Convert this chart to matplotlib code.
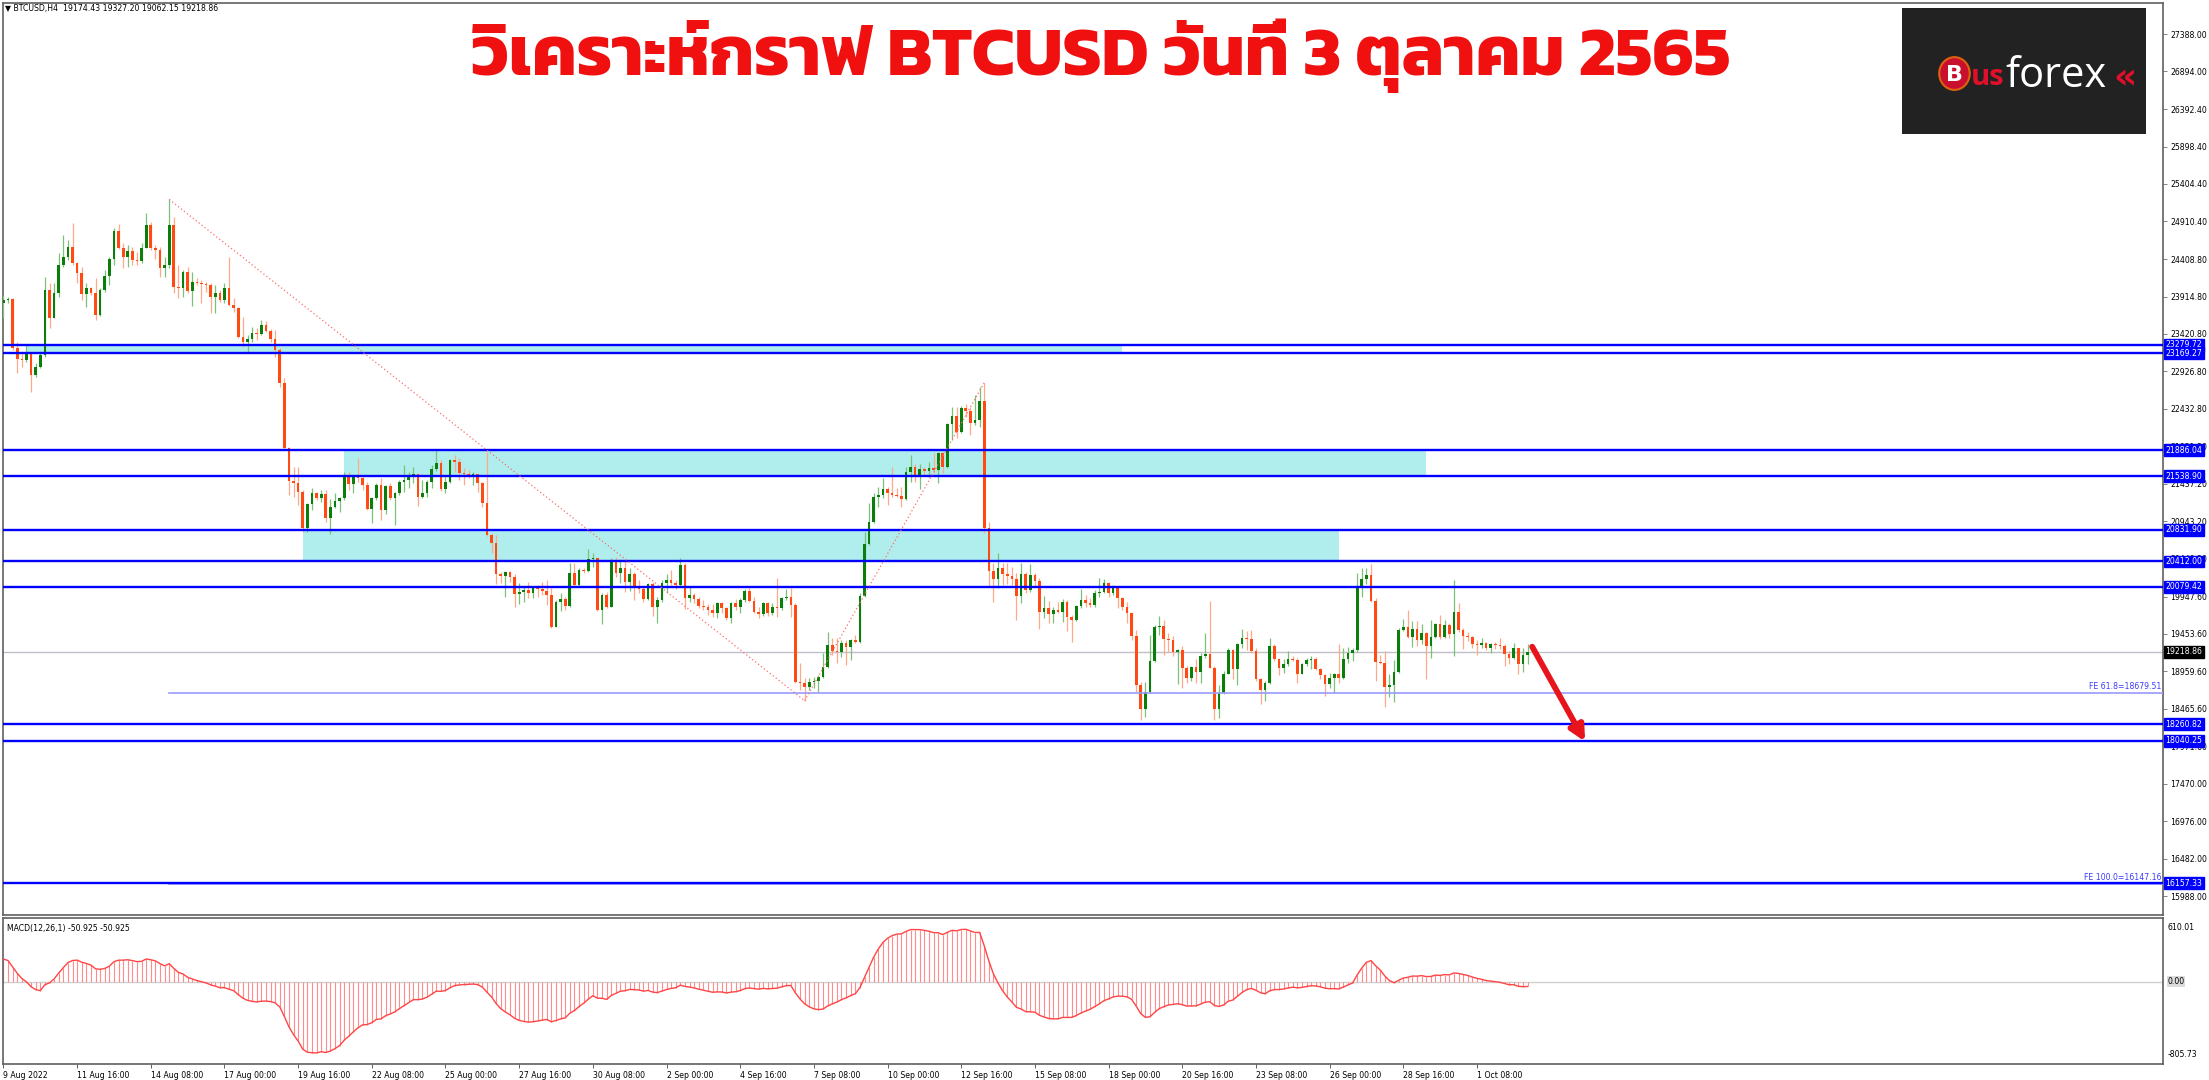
import matplotlib
matplotlib.use("Agg")
import matplotlib.pyplot as plt
import matplotlib.transforms as mtransforms
from matplotlib.patches import Rectangle, Ellipse
import numpy as np

# ---- data (9 Aug 2022 -> 3 Oct 2022) ----
first_open = 23826
closes = [
    23870, 23884, 23231, 23090, 23077, 23165, 22878, 22989, 23143, 24002,
    23637, 23958, 24333, 24443, 24567, 24355, 24223, 23945, 24025, 23958,
    23672, 24002, 24192, 24412, 24787, 24562, 24443, 24518, 24399, 24386,
    24562, 24862, 24554, 24531, 24298, 24333, 24862, 24047, 24033, 24245,
    23989, 24113, 24091, 24077, 24069, 23914, 23958, 23870, 24025, 23804,
    23760, 23385, 23319, 23354, 23438, 23421, 23540, 23465, 23354, 23209,
    22777, 21909, 21477, 21455, 21336, 20851, 21168, 21314, 21248, 21300,
    20983, 21137, 21212, 21256, 21547, 21433, 21534, 21512, 21424, 21106,
    21248, 21424, 21093, 21415, 21248, 21314, 21468, 21490, 21556, 21569,
    21261, 21314, 21468, 21631, 21719, 21367, 21468, 21755, 21728, 21578,
    21569, 21552, 21569, 21446, 21190, 20763, 20653, 20247, 20221, 20278,
    20212, 19983, 20013, 20035, 19991, 20058, 20044, 20027, 19969, 19551,
    19881, 19912, 19824, 20265, 20102, 20300, 20291, 20441, 20454, 19771,
    19969, 19815, 20419, 20265, 20322, 20146, 20247, 20080, 20044, 19912,
    20115, 19806, 19903, 20132, 20168, 20132, 20102, 20366, 19925, 19969,
    19912, 19824, 19806, 19771, 19727, 19859, 19793, 19661, 19859, 19806,
    19903, 20027, 19894, 19749, 19718, 19859, 19727, 19806, 19793, 19925,
    19947, 19837, 18823, 18801, 18757, 18823, 18836, 18889, 19012, 19308,
    19233, 19220, 19330, 19277, 19374, 19352, 19956, 20643, 20939, 21260,
    21291, 21366, 21313, 21291, 21283, 21234, 21600, 21666, 21543, 21631,
    21613, 21644, 21622, 21842, 21666, 22230, 22336, 22129, 22437, 22407,
    22248, 22283, 22539, 20851, 20291, 20176, 20322, 20247, 20220, 20176,
    19956, 20247, 20035, 20234, 20158, 19749, 19793, 19718, 19771, 19749,
    19881, 19682, 19638, 19823, 19903, 19859, 19837, 19991, 20013, 20123,
    20000, 20057, 19925, 19815, 19727, 19427, 18779, 18457, 18691, 19100,
    19541, 19559, 19383, 19374, 19221, 19238, 19000, 18877, 19018, 18956,
    19163, 19194, 19009, 18458, 18679, 18930, 19238, 18987, 19318, 19406,
    19384, 19230, 18855, 18709, 18811, 19296, 19119, 19000, 19053, 19119,
    19106, 18930, 19053, 19106, 19128, 18987, 18912, 18797, 18868, 18921,
    18868, 19119, 19208, 19238, 20089, 20177, 20235, 19891, 19088, 19075,
    18753, 18780, 18956, 19503, 19547, 19415, 19516, 19371, 19472, 19296,
    19415, 19591, 19415, 19573, 19450, 19750, 19503, 19428, 19415, 19318,
    19309, 19340, 19265, 19318, 19305, 19291, 19194, 19141, 19274, 19053,
    19174.43, 19218.86,
]
highs = [
    23936, 23914, 23892, 23319, 23165, 23275, 23187, 23033, 23187, 24179,
    24091, 24091, 24487, 24730, 24664, 24884, 24377, 24311, 24091, 24047,
    24157, 24025, 24267, 24443, 24818, 24871, 24620, 24598, 24576, 24509,
    24620, 25016, 24906, 24598, 24576, 24443, 25200, 24972, 24333, 24267,
    24311, 24245, 24157, 24135, 24113, 24091, 24069, 24002, 24091, 24443,
    23892, 23782, 23650, 23407, 23518, 23496, 23606, 23593, 23487, 23474,
    23231, 22843, 21931, 21666, 21666, 21358, 21181, 21380, 21336, 21358,
    21358, 21239, 21314, 21269, 21600, 21600, 21556, 21776, 21534, 21468,
    21269, 21446, 21512, 21424, 21446, 21336, 21490, 21688, 21600, 21666,
    21569, 21490, 21490, 21688, 21887, 21755, 21556, 21763, 21821, 21777,
    21644, 21622, 21600, 21569, 21468, 21865, 20785, 20763, 20278, 20291,
    20291, 20247, 20132, 20080, 20146, 20080, 20102, 20146, 20168, 20058,
    19903, 19991, 19947, 20397, 20397, 20322, 20322, 20573, 20520, 20441,
    19991, 20013, 20454, 20476, 20441, 20441, 20322, 20278, 20168, 20080,
    20132, 20146, 19947, 20168, 20247, 20300, 20168, 20454, 20388, 20080,
    20000, 19947, 19903, 19850, 19850, 19881, 19881, 19815, 19881, 19912,
    19925, 20044, 20058, 19947, 19815, 19881, 19881, 19859, 20190, 19947,
    20044, 20058, 19859, 19065, 18867, 18867, 18889, 18911, 19198, 19484,
    19396, 19396, 19374, 19374, 19383, 19440, 19991, 20806, 21181, 21313,
    21401, 21512, 21401, 21666, 21379, 21401, 21666, 21820, 21701, 21701,
    21666, 21732, 21842, 21864, 21864, 22248, 22459, 22459, 22468, 22495,
    22459, 22614, 22724, 22777, 20939, 20397, 20520, 20397, 20397, 20344,
    20256, 20397, 20278, 20379, 20256, 20189, 19956, 19894, 19815, 19881,
    19912, 19903, 19704, 19837, 20044, 19969, 19925, 20035, 20189, 20176,
    20145, 20101, 20088, 19947, 19881, 19749, 19506, 18823, 18823, 19440,
    19572, 19691, 19638, 19462, 19428, 19252, 19296, 19031, 19031, 19119,
    19208, 19472, 19891, 19031, 18780, 18965, 19274, 19252, 19340, 19516,
    19494, 19503, 19274, 18877, 18833, 19406, 19318, 19141, 19119, 19230,
    19163, 19141, 19075, 19133, 19163, 19150, 19009, 18930, 18943, 18943,
    19318, 19274, 19282, 19274, 20265, 20323, 20323, 20376, 19935, 19177,
    19230, 18930, 19106, 19538, 19648, 19767, 19626, 19626, 19582, 19485,
    19635, 19604, 19706, 19635, 19604, 20164, 19869, 19538, 19485, 19428,
    19371, 19406, 19353, 19340, 19353, 19406, 19327, 19230, 19340, 19274,
    19274, 19327.20,
]
lows = [
    23628, 23826, 23209, 22900, 22989, 23055, 22658, 22856, 22967, 23121,
    23504, 23628, 23914, 24311, 24399, 24333, 24091, 23870, 23782, 23936,
    23606, 23663, 23972, 24069, 24333, 24545, 24298, 24311, 24333, 24333,
    24355, 24554, 24531, 24412, 24179, 24179, 24298, 23958, 23901, 23914,
    23958, 23795, 24069, 23826, 23980, 23694, 23703, 23848, 23826, 23795,
    23716, 23363, 23253, 23187, 23319, 23341, 23407, 23452, 23319, 23121,
    22724, 21887, 21292, 21270, 21159, 20807, 20807, 21093, 21226, 21203,
    20939, 20772, 21115, 21071, 21226, 21358, 21314, 21468, 21358, 21093,
    20917, 21226, 20961, 21036, 21226, 20895, 21292, 21336, 21380, 21446,
    21146, 21248, 21270, 21380, 21613, 21349, 21314, 21455, 21600, 21490,
    21424, 21512, 21424, 21336, 21129, 20750, 20520, 20115, 20124, 19947,
    20146, 19815, 19850, 19881, 19925, 19925, 19947, 19969, 19837, 19528,
    19551, 19762, 19771, 19815, 20080, 20080, 20256, 20278, 20344, 19762,
    19586, 19793, 19806, 20212, 20124, 20013, 20027, 19903, 19991, 19881,
    19903, 19692, 19595, 19881, 20000, 20102, 20044, 20080, 19780, 19881,
    19859, 19793, 19771, 19705, 19683, 19661, 19727, 19639, 19603, 19771,
    19727, 19881, 19881, 19727, 19661, 19692, 19692, 19705, 19683, 19771,
    19903, 19683, 18801, 18713, 18572, 18713, 18735, 18691, 18867, 18999,
    19176, 19065, 19153, 19043, 19109, 19330, 19330, 19947, 20630, 20917,
    21137, 21247, 21159, 21269, 21269, 21128, 21225, 21468, 21468, 21366,
    21556, 21534, 21578, 21454, 21578, 21644, 22019, 22041, 22116, 22327,
    22085, 22217, 22195, 20793, 20079, 19881, 20057, 20101, 20114, 20101,
    19638, 19859, 19991, 20013, 20079, 19515, 19660, 19594, 19594, 19727,
    19616, 19497, 19352, 19630, 19793, 19815, 19815, 19815, 19947, 19991,
    19947, 19969, 19793, 19771, 19594, 19374, 18691, 18316, 18360, 18677,
    19087, 19440, 19176, 19220, 19163, 18789, 18745, 18811, 18833, 18811,
    18811, 19141, 19000, 18313, 18348, 18657, 18921, 18855, 18780, 19274,
    19238, 19208, 18833, 18524, 18568, 18798, 19097, 18912, 18943, 19031,
    19097, 18811, 18921, 19031, 18987, 18974, 18855, 18634, 18745, 18679,
    18811, 18855, 19075, 19097, 19221, 19944, 20111, 19882, 18833, 19053,
    18489, 18621, 18559, 18943, 19494, 19397, 19282, 19296, 19318, 18855,
    19133, 19397, 19384, 19397, 19397, 19163, 19485, 19252, 19362, 19274,
    19177, 19274, 19238, 19208, 19252, 19252, 19031, 19062, 19119, 18921,
    18956, 19062.15,
]

date_labels = ["9 Aug 2022", "11 Aug 16:00", "14 Aug 08:00", "17 Aug 00:00",
               "19 Aug 16:00", "22 Aug 08:00", "25 Aug 00:00", "27 Aug 16:00",
               "30 Aug 08:00", "2 Sep 00:00", "4 Sep 16:00", "7 Sep 08:00",
               "10 Sep 00:00", "12 Sep 16:00", "15 Sep 08:00", "18 Sep 00:00",
               "20 Sep 16:00", "23 Sep 08:00", "26 Sep 00:00", "28 Sep 16:00",
               "1 Oct 08:00"]
bars_per_label = 16

price_ticks = [27388.00, 26894.00, 26392.40, 25898.40, 25404.40, 24910.40,
               24408.80, 23914.80, 23420.80, 22926.80, 22432.80, 21931.20,
               21437.20, 20943.20, 20449.20, 19947.60, 19453.60, 18959.60,
               18465.60, 17971.60, 17470.00, 16976.00, 16482.00, 15988.00]

levels = [23279.72, 23169.27, 21886.04, 21538.90, 20831.90, 20412.00,
          20079.42, 18260.82, 18040.25, 16157.33]
last_price = 19218.86

# zones: (first bar, last bar, low, high)
zones = [(5, 243, 23169.27, 23279.72),
         (74, 309, 21538.90, 21886.04),
         (65, 290, 20412.00, 20831.90)]

# fibo expansion anchors: (bar, price)
fib_a = (36, 25200.0)
fib_b = (174, 18571.0)
fib_c = (213, 22776.4)
fe_levels = [("FE 61.8=18679.51", 18679.51), ("FE 100.0=16147.16", 16147.16)]

arrow_from = (332, 19285)
arrow_to = (343.5, 18030)

macd_start = 235  # MACD value on the first bar

title = "วิเคราะห์กราฟ BTCUSD วันที่ 3 ตุลาคม 2565"
header = "\u25bc BTCUSD,H4  19174.43 19327.20 19062.15 19218.86"
macd_label = "MACD(12,26,1) -50.925 -50.925"

# ---- derived series ----
c = np.array(closes, dtype=float)
o = np.concatenate([[first_open], c[:-1]])
h = np.array(highs, dtype=float)
l = np.array(lows, dtype=float)
x = np.arange(len(c))

ema12 = [c[0]]
ema26 = [c[0] - macd_start]
for v in c[1:]:
    ema12.append(ema12[-1] + 2 / 13 * (v - ema12[-1]))
    ema26.append(ema26[-1] + 2 / 27 * (v - ema26[-1]))
macd = np.array(ema12) - np.array(ema26)

# ---- figure ----
W, H = 2209, 1080
fig = plt.figure(figsize=(W / 100, H / 100), dpi=100)
fs = 5.6
ax = fig.add_axes([3 / W, 1 - 915 / H, 2160 / W, 912 / H])
ax2 = fig.add_axes([3 / W, 1 - 1064 / H, 2160 / W, 146 / H])

xmax = 469
for a in (ax, ax2):
    a.set_xlim(-0.1, xmax)
    for s in a.spines.values():
        s.set_color("#606060")
        s.set_linewidth(1.2)
ax.set_ylim(15737, 27798)
ax2.set_ylim(-858, 662)

# zones
for x0, x1, lo, hi in zones:
    ax.add_patch(Rectangle((x0, lo), x1 - x0, hi - lo, facecolor="#b0eded",
                           edgecolor="none", zorder=1))

# candles
up = c >= o
green, red = "#0b7d0b", "#ff4a14"
wick_cols = np.where(up, "#7cc07c", "#ffa98a")
ax.vlines(x, l, h, colors=wick_cols, linewidth=0.9, zorder=3)
body_lo = np.minimum(o, c)
body_h = np.maximum(np.abs(c - o), 9)
ax.bar(x, body_h, bottom=body_lo, width=0.58,
       color=np.where(up, green, red), edgecolor="none", zorder=4)

# horizontal levels
for lv in levels:
    ax.axhline(lv, color="#0000ff", linewidth=1.7, zorder=5)
ax.axhline(last_price, color="#c0c0c8", linewidth=1.0, zorder=2)

# fibo lines
ax.plot([fib_a[0], fib_b[0]], [fib_a[1], fib_b[1]], color="#ff6b6b",
        linewidth=0.9, linestyle=(0, (1, 2)), zorder=6)
ax.plot([fib_b[0], fib_c[0]], [fib_b[1], fib_c[1]], color="#ff6b6b",
        linewidth=0.9, linestyle=(0, (1, 2)), zorder=6)
for txt, lv in fe_levels:
    ax.plot([fib_a[0], xmax], [lv, lv], color="#9a9aff", linewidth=1.2, zorder=4)
    ax.text(xmax - 0.4, lv + 20, txt, color="#3a3aff", fontsize=fs,
            ha="right", va="bottom", zorder=7)

# arrow
ax.annotate("", xy=arrow_to, xytext=arrow_from,
            arrowprops=dict(arrowstyle="-|>,head_length=0.9,head_width=0.45",
                            color="#e8141c", linewidth=4.2, shrinkA=0, shrinkB=0),
            zorder=8)

# right price axis
ax.yaxis.tick_right()
ax.set_yticks(price_ticks)
ax.set_yticklabels(["%.2f" % t for t in price_ticks])
ax.tick_params(axis="y", direction="out", length=3, width=0.7, color="#808080",
               labelsize=fs, pad=2)
ax.set_xticks([])
trans = mtransforms.blended_transform_factory(ax.transAxes, ax.transData)
for lv in levels:
    ax.text(1.0012, lv, "%.2f" % lv, transform=trans, color="white", fontsize=fs,
            ha="left", va="center", clip_on=False, zorder=10,
            bbox=dict(boxstyle="square,pad=0.18", fc="#0000ff", ec="#0000ff"))
ax.text(1.0012, last_price, "%.2f" % last_price, transform=trans, color="white",
        fontsize=fs, ha="left", va="center", clip_on=False, zorder=10,
        bbox=dict(boxstyle="square,pad=0.18", fc="#000000", ec="#000000"))

# MACD panel
ax2.axhline(0, color="#d0d0d0", linewidth=1.0, zorder=1)
ax2.vlines(x, 0, macd, colors="#ff8c8c", linewidth=0.8, zorder=2)
ax2.plot(x, macd, color="#ff4545", linewidth=1.0, zorder=3)
ax2.set_yticks([])
ax2.set_xticks(np.arange(len(date_labels)) * bars_per_label)
ax2.set_xticklabels(date_labels, ha="left")
ax2.tick_params(axis="x", direction="out", length=3, width=0.7, color="#606060",
                labelsize=fs, pad=2)
trans2 = mtransforms.blended_transform_factory(ax2.transAxes, ax2.transData)
ax2.text(1.002, 610.01, "610.01", transform=trans2, fontsize=fs, va="top",
         ha="left", clip_on=False)
ax2.text(1.002, 0, "0.00", transform=trans2, fontsize=fs, va="center",
         ha="left", clip_on=False,
         bbox=dict(boxstyle="square,pad=0.1", fc="#dcdcdc", ec="none"))
ax2.text(1.002, -805.73, "-805.73", transform=trans2, fontsize=fs,
         va="bottom", ha="left", clip_on=False)
ax2.text(0.002, 0.96, macd_label, transform=ax2.transAxes,
         fontsize=fs, va="top", ha="left")

# header
fig.text(5 / W, 1 - 4 / H, header, fontsize=fs, va="top", ha="left")

# title
fig.text(1101 / W, 1 - 56 / H, title, family=["Kanit", "DejaVu Sans"],
         fontsize=50.5, fontweight="bold", color="#f01010",
         ha="center", va="center")

# logo
lg = fig.add_axes([1902 / W, 1 - 134 / H, 244 / W, 126 / H])
lg.set_xlim(0, 1)
lg.set_ylim(0, 1)
lg.set_facecolor("#222222")
lg.set_xticks([])
lg.set_yticks([])
for s in lg.spines.values():
    s.set_visible(False)
lg.add_patch(Ellipse((0.215, 0.48), 0.125, 0.26, facecolor="#c8102e",
                     edgecolor="#e06010", linewidth=1.5))
lg.text(0.215, 0.47, "B", color="white", fontsize=16, fontweight="bold",
        ha="center", va="center")
lg.text(0.282, 0.45, "us", color="#e0102a", fontsize=21, fontweight="bold",
        ha="left", va="center", family="Open Sans")
lg.text(0.425, 0.46, "forex", color="white", fontsize=30,
        ha="left", va="center", family="Open Sans")
lg.text(0.865, 0.44, "\u00ab", color="#e0102a", fontsize=26, fontweight="bold",
        ha="left", va="center")

fig.savefig("out.png", dpi=100)
